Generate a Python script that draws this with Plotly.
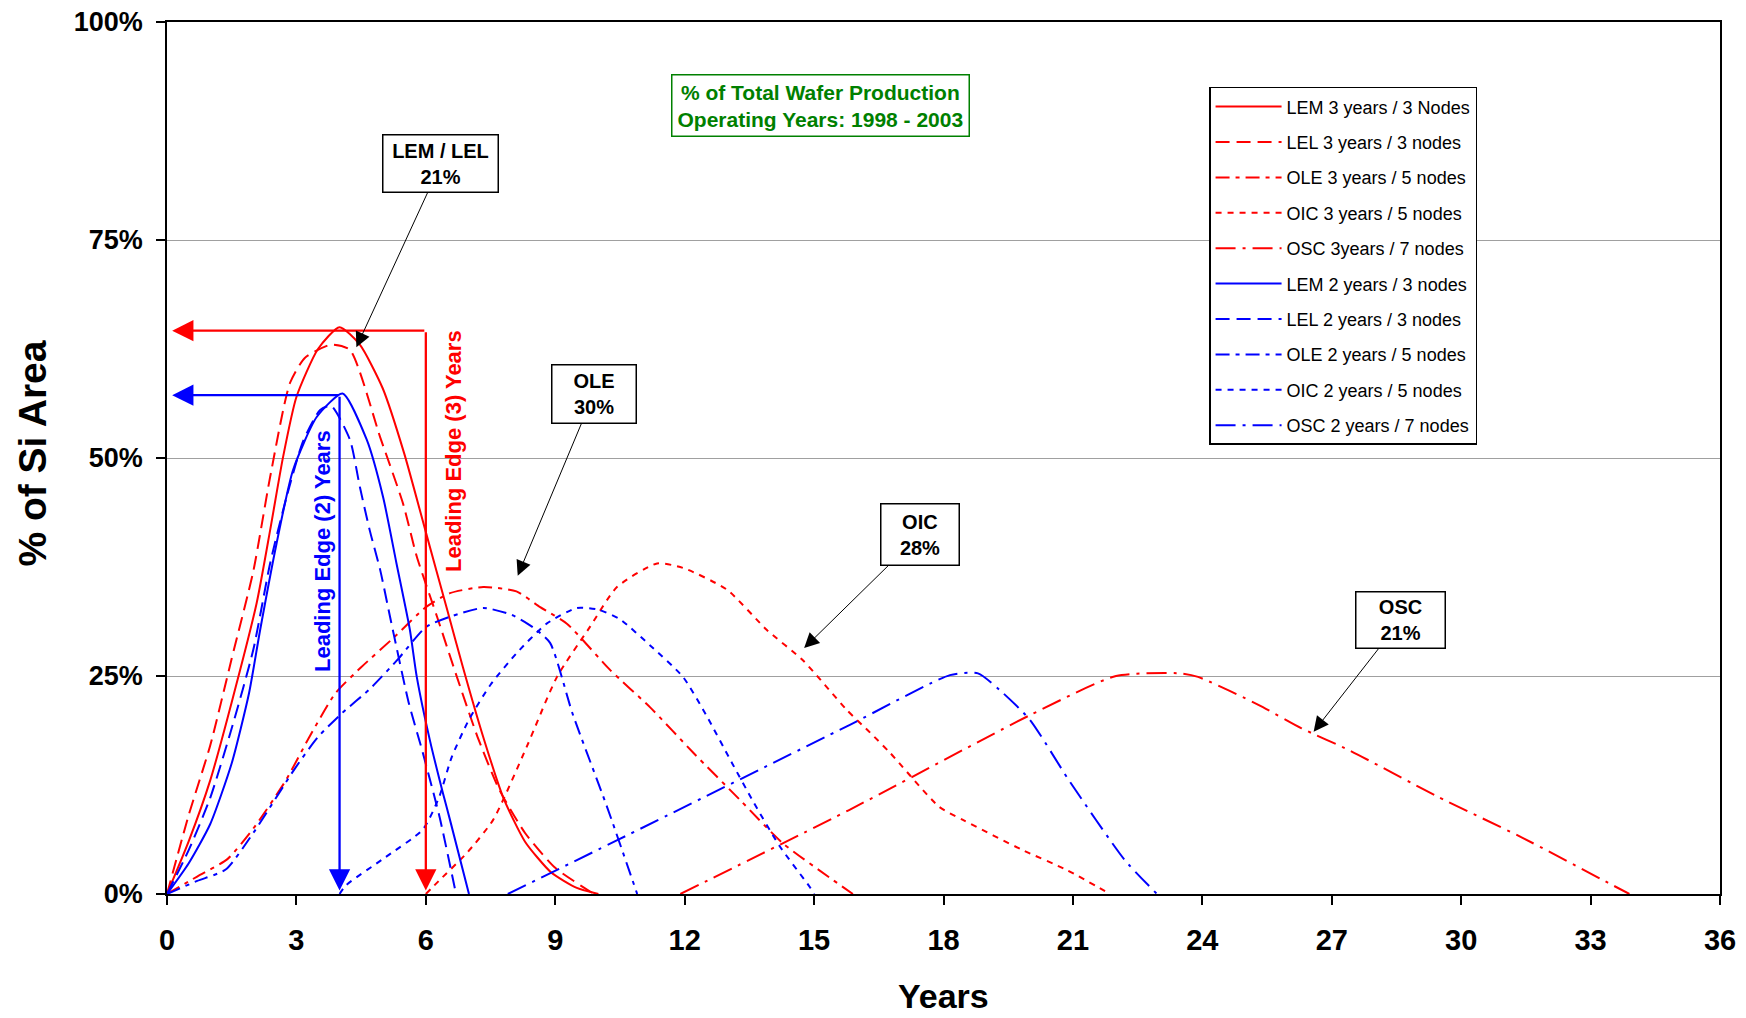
import plotly.graph_objects as go

# ---------------- data (years, % of Si area) ----------------
lem3_x = [0, 0.5, 1, 1.5, 2.08, 2.39, 2.69, 3.0, 3.5, 4.0, 4.47, 5.0, 5.5, 6.0, 6.5, 6.86, 7.3, 7.8, 8.3, 8.9, 9.5, 10.0]
lem3_y = [0, 6, 13, 22, 33.4, 41.7, 50.1, 57, 62.5, 65, 63, 58, 50.5, 41.5, 32.5, 26, 18.5, 11, 6, 2.5, 0.7, 0]

lel3_x = [0, 0.5, 1, 1.5, 2.0, 2.39, 2.85, 3.2, 3.8, 4.24, 4.94, 5.47, 5.79, 6.26, 6.72, 7.2, 7.7, 8.3, 9.0, 9.9]
lel3_y = [0, 9, 17, 27, 37, 47.8, 58.6, 61.5, 63, 62.4, 52.4, 44.8, 38.7, 31.8, 24.9, 18, 12, 7, 3, 0]

ole3_x = [0, 0.7, 1.4, 2, 2.75, 3.3, 3.9, 4.5, 5.3, 6, 6.56, 7.33, 8.1, 8.65, 9.27, 10.27, 11.2, 12.2, 13.28, 14.28, 15.44, 15.9]
ole3_y = [0, 2, 4, 7.5, 13, 18, 23, 26, 29.6, 32.9, 34.5, 35.2, 34.7, 32.9, 31, 25.7, 21.4, 16.2, 10.8, 5.8, 1.6, 0]

oic3_x = [6, 6.3, 6.95, 7.56, 8.34, 9.04, 9.8, 10.43, 11.36, 11.96, 12.98, 13.9, 14.74, 15.76, 16.3, 16.76, 17.9, 18.45, 19.85, 20.86, 21.86]
oic3_y = [0, 1.5, 4.7, 8.5, 16.9, 24.9, 30.6, 35.2, 37.9, 37.4, 34.9, 30.3, 26.8, 21.1, 18.5, 16.2, 10, 8.5, 5, 2.75, 0]

osc3_x = [11.9, 15.8, 20, 22, 23.5, 23.9, 25.3, 26.3, 27.4, 29.4, 31.4, 33.4, 33.9]
osc3_y = [0, 9.6, 20.5, 25, 25.3, 24.9, 21.7, 19, 16.5, 11.3, 6.5, 1.3, 0]

lem2_x = [0, 0.5, 1, 1.5, 1.9, 2.16, 2.54, 2.92, 3.47, 4.07, 4.63, 5.01, 5.32, 5.63, 5.79, 6.1, 6.4, 6.56, 7.0]
lem2_y = [0, 3.5, 8, 15, 23, 30.3, 40.2, 48.6, 54.7, 57.4, 52.1, 45.5, 37.9, 30.3, 24.9, 17.5, 11.5, 8.5, 0]

lel2_x = [0, 0.5, 1, 1.5, 2.0, 2.39, 2.77, 3.16, 3.55, 3.8, 4.24, 4.47, 4.7, 4.94, 5.17, 5.32, 5.6, 5.93, 6.32, 6.7]
lel2_y = [0, 5, 11, 19, 28, 37.9, 45.5, 52, 55.5, 56, 52.1, 46.7, 41.7, 37.2, 31.8, 28.3, 22, 16.2, 8.8, 0]

ole2_x = [0, 0.7, 1.36, 2, 2.98, 3.5, 4.07, 4.7, 5.35, 6, 6.56, 7.33, 8, 8.48, 8.88, 9.4, 10.2, 10.9]
ole2_y = [0, 1.5, 2.8, 7, 14.5, 18, 20.8, 23.5, 26.9, 30.6, 31.8, 32.8, 32, 30.6, 28.8, 20.7, 10, 0]

oic2_x = [4, 4.15, 5, 5.93, 6.3, 6.6, 7, 7.5, 8.1, 8.8, 9.5, 10.0, 10.5, 11.2, 11.96, 12.5, 13.1, 13.6, 14.2, 14.9, 15]
oic2_y = [0, 1, 4, 7.4, 11, 15.7, 20, 24, 27.6, 31, 32.8, 32.6, 31.5, 28.5, 24.9, 20.5, 15, 10.5, 5.5, 0.8, 0]

osc2_x = [7.9, 10.45, 15.83, 18.15, 18.8, 19.3, 20, 20.9, 22.2, 22.95]
osc2_y = [0, 6.2, 19.4, 25.1, 25.3, 23.4, 20, 13.1, 3.9, 0]

series_names = ["LEM 3 years / 3 Nodes", "LEL 3 years / 3 nodes", "OLE 3 years / 5 nodes",
                "OIC 3 years / 5 nodes", "OSC 3years / 7 nodes", "LEM 2 years / 3 nodes",
                "LEL 2 years / 3 nodes", "OLE 2 years / 5 nodes", "OIC 2 years / 5 nodes",
                "OSC 2 years / 7 nodes"]

# leading edge markers: year where the arrow drops, and the peak level
lead_years = [6, 4]
lead_levels = [64.6, 57.2]
lead_labels = ["Leading Edge (3) Years", "Leading Edge (2) Years"]
lead_label_x = [6.63, 3.61]
lead_label_y = [50.8, 39.3]

x_ticks = list(range(0, 37, 3))
y_ticks = [0, 25, 50, 75, 100]
y_ticktext = ["0%", "25%", "50%", "75%", "100%"]

# callouts: text, box centre (x, y), arrow tip (x, y), box width/height
callouts = [
    ("LEM / LEL<br>21%", 6.35, 83.75, 4.39, 62.7, 110, 52),
    ("OLE<br>30%", 9.89, 57.3, 8.13, 36.5, 79, 53),
    ("OIC<br>28%", 17.45, 41.2, 14.77, 28.2, 73, 56),
    ("OSC<br>21%", 28.6, 31.4, 26.58, 18.6, 84, 51),
]

# ---------------- styling ----------------
RED = "#FF0000"
BLUE = "#0000FF"
NARROW = "Liberation Sans Narrow, Arial Narrow, Liberation Sans, Arial, sans-serif"
ARIAL = "Liberation Sans, Arial, sans-serif"

dash_lem = "solid"
dash_lel = "14px,7px"
dash_ole = "14px,6px,4px,6px"
dash_oic = "6px,6px"
dash_osc = "20px,7px,3px,7px"

series = [
    (lem3_x, lem3_y, RED, dash_lem),
    (lel3_x, lel3_y, RED, dash_lel),
    (ole3_x, ole3_y, RED, dash_ole),
    (oic3_x, oic3_y, RED, dash_oic),
    (osc3_x, osc3_y, RED, dash_osc),
    (lem2_x, lem2_y, BLUE, dash_lem),
    (lel2_x, lel2_y, BLUE, dash_lel),
    (ole2_x, ole2_y, BLUE, dash_ole),
    (oic2_x, oic2_y, BLUE, dash_oic),
    (osc2_x, osc2_y, BLUE, dash_osc),
]

fig = go.Figure()
for i, ((xs, ys, col, dash), name) in enumerate(zip(series, series_names)):
    fig.add_trace(go.Scatter(
        x=xs, y=ys, name=name, mode="lines",
        line=dict(color=col, width=2, dash=dash, shape="spline", smoothing=0.6),
        legendgroup=f"g{i}", hoverinfo="skip",
    ))

annotations = []
# leading-edge arrows (horizontal to the axis, vertical down to zero)
for yr, lvl, col, lab, txx, txy in zip(lead_years, lead_levels, [RED, BLUE], lead_labels,
                                      lead_label_x, lead_label_y):
    annotations.append(dict(x=0.12, y=lvl, ax=yr, ay=lvl, xref="x", yref="y", axref="x", ayref="y",
                            text="", showarrow=True, arrowhead=2, arrowsize=1.85, arrowwidth=2.3,
                            arrowcolor=col))
    annotations.append(dict(x=yr, y=0.4, ax=yr, ay=lvl, xref="x", yref="y", axref="x", ayref="y",
                            text="", showarrow=True, arrowhead=2, arrowsize=1.85, arrowwidth=2.3,
                            arrowcolor=col))
    annotations.append(dict(x=txx, y=txy, xref="x", yref="y", text=lab, showarrow=False,
                            textangle=-90, xanchor="center", yanchor="middle",
                            font=dict(family=NARROW, size=22, color=col, weight="bold")))

for text, bx, by, tx, ty, w, h in callouts:
    annotations.append(dict(x=tx, y=ty, ax=bx, ay=by, xref="x", yref="y", axref="x", ayref="y",
                            text=text, showarrow=True, arrowhead=2, arrowsize=3, arrowwidth=1,
                            arrowcolor="black", bordercolor="black", borderwidth=1.5, borderpad=2,
                            bgcolor="white", width=w, height=h,
                            font=dict(family=NARROW, size=20, color="black", weight="bold")))

annotations.append(dict(x=15.15, y=90.4, xref="x", yref="y", showarrow=False,
                        xanchor="center", yanchor="middle",
                        text="% of Total Wafer Production<br>Operating Years: 1998 - 2003",
                        bordercolor="#008000", borderwidth=1.5, borderpad=5, bgcolor="white",
                        font=dict(family=NARROW, size=21, color="#008000", weight="bold")))

# axis titles
annotations.append(dict(x=-0.0863, y=0.505, xref="paper", yref="paper", showarrow=False,
                        xanchor="center", yanchor="middle",
                        text="% of Si Area", textangle=-90,
                        font=dict(family=ARIAL, size=39, color="black", weight="bold")))
annotations.append(dict(x=0.5, y=-0.117, xref="paper", yref="paper", showarrow=False,
                        xanchor="center", yanchor="middle",
                        text="Years", font=dict(family=NARROW, size=34, color="black", weight="bold")))

fig.update_layout(
    width=1746, height=1018,
    margin=dict(l=167, r=26, t=22, b=124, autoexpand=False),
    paper_bgcolor="white", plot_bgcolor="white",
    showlegend=True,
    legend=dict(x=0.671, y=0.9256, xanchor="left", yanchor="top",
                bordercolor="black", borderwidth=1.5, bgcolor="white",
                font=dict(family=ARIAL, size=18, color="black"),
                tracegroupgap=9, itemwidth=66),
    annotations=annotations,
    hovermode=False,
)
fig.update_xaxes(range=[0, 36], tickvals=x_ticks, ticks="outside", ticklen=9, tickwidth=1.5,
                 tickcolor="black", showline=True, linecolor="black", linewidth=1.5, mirror=True,
                 showgrid=False, zeroline=False, automargin=False, ticklabelstandoff=10,
                 tickfont=dict(family=NARROW, size=29, color="black", weight="bold"))
fig.update_yaxes(range=[0, 100], tickvals=y_ticks, ticktext=y_ticktext, ticks="outside", ticklen=9,
                 tickwidth=1.5, tickcolor="black", showline=True, linecolor="black", linewidth=1.5,
                 mirror=True, showgrid=True, gridcolor="#A0A0A0", gridwidth=1, zeroline=False,
                 automargin=False, ticklabelstandoff=8,
                 tickfont=dict(family=ARIAL, size=27, color="black", weight="bold"))

fig.write_html("out.html", config={"displayModeBar": False},
               post_script="document.body.style.margin='0px';document.body.style.padding='0px';")
